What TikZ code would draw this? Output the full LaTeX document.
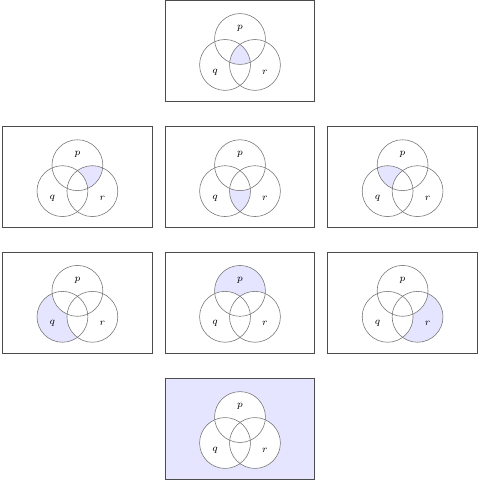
\documentclass[tikz,border=0pt]{standalone}
\tikzset{
  box/.style={draw=black!70, line width=0.6pt},
  ring/.style={draw=black!55, line width=0.4pt},
  shade/.style={fill=blue!10},
  lbl/.style={font=\scriptsize, inner sep=0pt}
}
% one panel: #1,#2 centre, #3 shading
\newcommand\venn[3]{%
\begin{scope}[shift={(#1,#2)}]
  \coordinate (p) at (0,-12);
  \coordinate (q) at (-15,14);
  \coordinate (r) at (15,14);
  #3
  \draw[box] (-75,-50.5) rectangle (75,50.5);
  \foreach \c in {p,q,r} \draw[ring] (\c) circle (25.5);
  \node[lbl] (lp) at (0,-23) {$p$};
  \node[lbl] (lq) at (-25,21) {$q$};
  \node[lbl] (lr) at (25,21) {$r$};
\end{scope}}
\begin{document}
\begin{tikzpicture}[x=0.025cm,y=-0.025cm]
\useasboundingbox (-0.6,-0.6) rectangle (480.6,480.6);
% p and q and r
\venn{240}{50.5}{\begin{scope}\clip (p) circle (25.5); \clip (q) circle (25.5); \fill[shade] (r) circle (25.5);\end{scope}}
% row 2
\venn{77}{177}{\begin{scope}\clip (p) circle (25.5); \fill[shade] (r) circle (25.5); \fill[white] (q) circle (25.5);\end{scope}}
\venn{240}{177}{\begin{scope}\clip (q) circle (25.5); \fill[shade] (r) circle (25.5); \fill[white] (p) circle (25.5);\end{scope}}
\venn{403}{177}{\begin{scope}\clip (p) circle (25.5); \fill[shade] (q) circle (25.5); \fill[white] (r) circle (25.5);\end{scope}}
% row 3
\venn{77}{303}{\fill[shade] (q) circle (25.5); \fill[white] (p) circle (25.5); \fill[white] (r) circle (25.5);}
\venn{240}{303}{\fill[shade] (p) circle (25.5); \fill[white] (q) circle (25.5); \fill[white] (r) circle (25.5);}
\venn{403}{303}{\fill[shade] (r) circle (25.5); \fill[white] (p) circle (25.5); \fill[white] (q) circle (25.5);}
% outside
\venn{240}{429.5}{\fill[shade] (-75,-50.5) rectangle (75,50.5); \foreach \c in {p,q,r} \fill[white] (\c) circle (25.5);}
\end{tikzpicture}
\end{document}
